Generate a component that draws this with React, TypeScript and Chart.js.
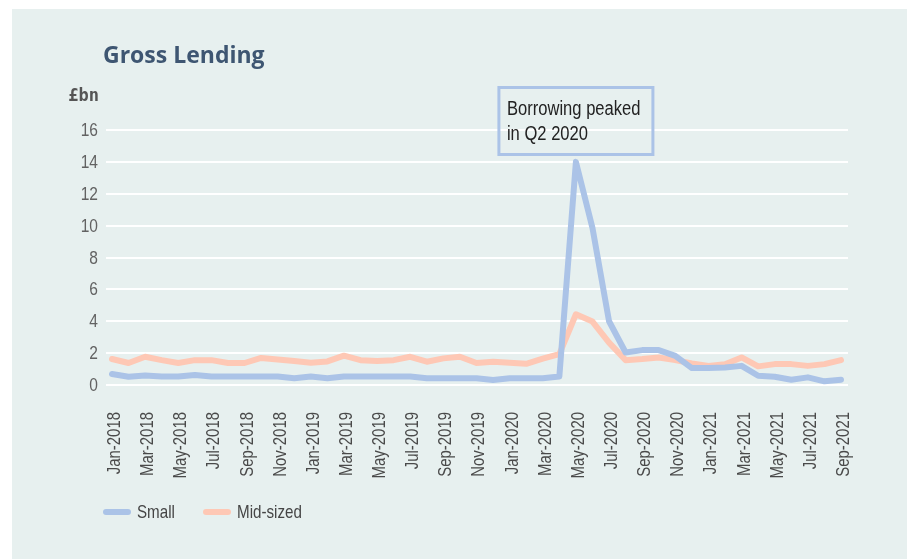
import React, { useEffect, useRef } from "react";
import { Chart, registerables } from "chart.js";

Chart.register(...registerables);

const months: string[] = [
  "Jan-2018", "Feb-2018", "Mar-2018", "Apr-2018", "May-2018", "Jun-2018", "Jul-2018", "Aug-2018", "Sep-2018", "Oct-2018", "Nov-2018", "Dec-2018",
  "Jan-2019", "Feb-2019", "Mar-2019", "Apr-2019", "May-2019", "Jun-2019", "Jul-2019", "Aug-2019", "Sep-2019", "Oct-2019", "Nov-2019", "Dec-2019",
  "Jan-2020", "Feb-2020", "Mar-2020", "Apr-2020", "May-2020", "Jun-2020", "Jul-2020", "Aug-2020", "Sep-2020", "Oct-2020", "Nov-2020", "Dec-2020",
  "Jan-2021", "Feb-2021", "Mar-2021", "Apr-2021", "May-2021", "Jun-2021", "Jul-2021", "Aug-2021", "Sep-2021",
];

const small: number[] = [
  0.69, 0.52, 0.6, 0.53, 0.53, 0.63, 0.53, 0.53, 0.53, 0.53, 0.53, 0.43,
  0.53, 0.43, 0.53, 0.53, 0.53, 0.53, 0.53, 0.43, 0.43, 0.43, 0.43, 0.32,
  0.43, 0.43, 0.43, 0.53, 14.0, 9.85, 4.0, 2.04, 2.19, 2.19, 1.83, 1.06,
  1.06, 1.1, 1.2, 0.58, 0.52, 0.33, 0.48, 0.23, 0.33,
];

const midSized: number[] = [
  1.63, 1.38, 1.77, 1.56, 1.38, 1.56, 1.56, 1.38, 1.38, 1.7, 1.6, 1.5,
  1.4, 1.48, 1.84, 1.56, 1.5, 1.56, 1.77, 1.46, 1.67, 1.77, 1.38, 1.46,
  1.4, 1.33, 1.65, 1.94, 4.44, 3.98, 2.66, 1.56, 1.63, 1.73, 1.56, 1.35,
  1.2, 1.3, 1.73, 1.17, 1.31, 1.31, 1.2, 1.31, 1.56,
];

const seriesNames: string[] = ["Small", "Mid-sized"];
const chartTitle = "Gross Lending";
const unitLabel = "£bn";
const noteLines: string[] = ["Borrowing peaked", "in Q2 2020"];
const noteIndex = 28;

const BLUE = "#abc3e7";
const PEACH = "#fec8b5";
const NARROW = '"Liberation Sans", Arial, sans-serif';

function narrowText(
  ctx: CanvasRenderingContext2D,
  text: string,
  x: number,
  y: number,
  opts: { size: number; sx: number; color: string; align: CanvasTextAlign; baseline: CanvasTextBaseline; rotate?: number }
) {
  ctx.save();
  ctx.translate(x, y);
  if (opts.rotate) ctx.rotate(opts.rotate);
  ctx.scale(opts.sx, 1);
  ctx.font = opts.size + "px " + NARROW;
  ctx.fillStyle = opts.color;
  ctx.textAlign = opts.align;
  ctx.textBaseline = opts.baseline;
  ctx.fillText(text, 0, 0);
  ctx.restore();
}

export default function App() {
  const ref = useRef<HTMLCanvasElement | null>(null);

  useEffect(() => {
    const canvas = ref.current;
    if (!canvas) return;

    const decor = {
      id: "decor",
      beforeDatasetsDraw(chart: any) {
        const { ctx, chartArea, scales } = chart;
        const y = scales.y;
        ctx.save();
        ctx.strokeStyle = "#ffffff";
        ctx.lineWidth = 2;
        y.ticks.forEach((t: any) => {
          const py = Math.round(y.getPixelForValue(t.value));
          ctx.beginPath();
          ctx.moveTo(chartArea.left - 6, py);
          ctx.lineTo(chartArea.right + 7, py);
          ctx.stroke();
        });
        ctx.restore();
      },
      afterDraw(chart: any) {
        const { ctx, scales } = chart;
        const xs = scales.x;
        const ys = scales.y;
        ctx.save();

        // y tick labels
        ys.ticks.forEach((t: any) => {
          narrowText(ctx, String(t.value), 98, ys.getPixelForValue(t.value) + 1, {
            size: 18.5, sx: 0.84, color: "#626262", align: "right", baseline: "middle",
          });
        });

        // x tick labels (every other month)
        months.forEach((m, i) => {
          if (i % 2 !== 0) return;
          narrowText(ctx, m, xs.getPixelForValue(i) + 3, 412, {
            size: 18, sx: 0.83, color: "#4a4a4a", align: "right", baseline: "middle", rotate: -Math.PI / 2,
          });
        });

        // title
        ctx.fillStyle = "#3e5672";
        ctx.font = '700 23px "Open Sans", sans-serif';
        ctx.textBaseline = "alphabetic";
        ctx.textAlign = "left";
        ctx.fillText(chartTitle, 103, 63);

        // unit
        ctx.fillStyle = "#555555";
        ctx.font = '700 17px "DejaVu Sans Mono", monospace';
        ctx.textAlign = "right";
        ctx.textBaseline = "middle";
        ctx.fillText(unitLabel, 99, 97);

        // annotation box
        const px = xs.getPixelForValue(noteIndex);
        const bw = 154;
        const bx = px - bw / 2;
        const by = 87.5;
        const bh = 67;
        ctx.strokeStyle = BLUE;
        ctx.lineWidth = 3;
        ctx.strokeRect(bx, by, bw, bh);
        narrowText(ctx, noteLines[0], bx + 8, 115, { size: 19.5, sx: 0.85, color: "#222222", align: "left", baseline: "alphabetic" });
        narrowText(ctx, noteLines[1], bx + 8, 140, { size: 19.5, sx: 0.85, color: "#222222", align: "left", baseline: "alphabetic" });

        // legend
        const items = [
          { name: seriesNames[0], color: BLUE, x: 106 },
          { name: seriesNames[1], color: PEACH, x: 206 },
        ];
        ctx.lineCap = "round";
        ctx.lineWidth = 6;
        items.forEach((it) => {
          ctx.strokeStyle = it.color;
          ctx.beginPath();
          ctx.moveTo(it.x, 512);
          ctx.lineTo(it.x + 22, 512);
          ctx.stroke();
          narrowText(ctx, it.name, it.x + 31, 513, { size: 18.5, sx: 0.82, color: "#454545", align: "left", baseline: "middle" });
        });
        ctx.restore();
      },
    };

    const chart = new Chart(canvas, {
      type: "line",
      data: {
        labels: months,
        datasets: [
          {
            label: seriesNames[0],
            data: small,
            borderColor: BLUE,
            backgroundColor: BLUE,
            borderWidth: 6,
            pointRadius: 0,
            tension: 0,
            borderCapStyle: "round",
            borderJoinStyle: "round",
          },
          {
            label: seriesNames[1],
            data: midSized,
            borderColor: PEACH,
            backgroundColor: PEACH,
            borderWidth: 6,
            pointRadius: 0,
            tension: 0,
            borderCapStyle: "round",
            borderJoinStyle: "round",
          },
        ],
      },
      options: {
        responsive: false,
        animation: false,
        devicePixelRatio: 1,
        layout: { padding: { left: 0, right: 71, top: 130, bottom: 74 } },
        plugins: {
          legend: { display: false },
          tooltip: { enabled: false },
          title: { display: false },
        },
        scales: {
          x: {
            offset: false,
            grid: { display: false, drawTicks: false },
            border: { display: false },
            ticks: { display: false, autoSkip: false },
            afterFit: (s: any) => {
              s.height = 100;
            },
          },
          y: {
            min: 0,
            max: 16,
            grid: { display: false, drawTicks: false },
            border: { display: false },
            ticks: { display: false, stepSize: 2 },
            afterFit: (s: any) => {
              s.width = 112;
            },
          },
        },
      },
      plugins: [decor],
    } as any);

    return () => chart.destroy();
  }, []);

  return (
    <div style={{ position: "fixed", left: 0, top: 0, width: 912, height: 559, background: "#ffffff" }}>
      <div style={{ position: "absolute", left: 12, top: 9, width: 895, height: 550, background: "#e7f0ef" }} />
      <canvas ref={ref} width={912} height={559} style={{ position: "absolute", left: 0, top: 0, width: 912, height: 559 }} />
    </div>
  );
}
